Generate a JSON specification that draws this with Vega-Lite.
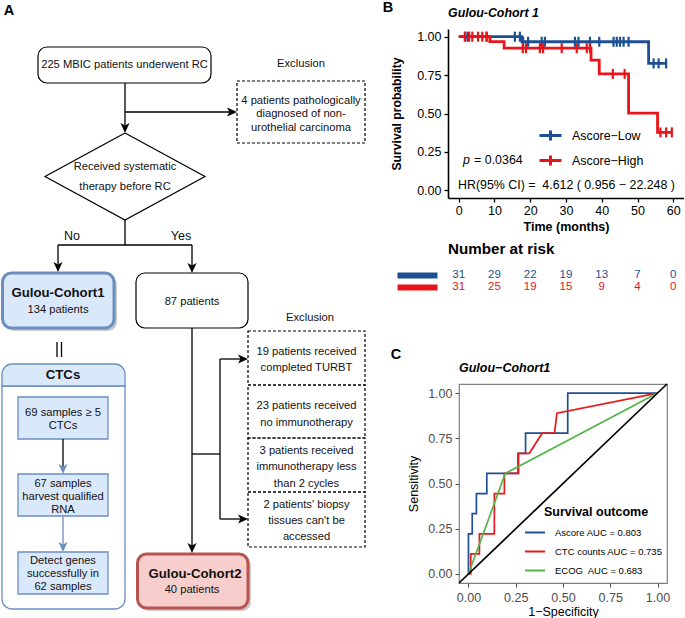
{
  "$schema": "https://vega.github.io/schema/vega-lite/v6.json",
  "padding": 0,
  "spacing": 0,
  "bounds": "flush",
  "resolve": {"scale": {"color": "independent", "fill": "independent", "stroke": "independent"}, "legend": {"color": "independent", "fill": "independent", "stroke": "independent"}},
  "config": {
    "font": "Liberation Sans",
    "view": {"stroke": null},
    "axis": {"grid": false, "labelFont": "Liberation Sans", "titleFont": "Liberation Sans"},
    "legend": {"labelFont": "Liberation Sans", "titleFont": "Liberation Sans"},
    "title": {"font": "Liberation Sans", "color": "black"},
    "text": {"font": "Liberation Sans"}
  },
  "datasets": {
    "fcBoxes": [{"x": 38, "x2": 211, "y": 46, "y2": 82}, {"x": 136, "x2": 248, "y": 272, "y2": 327}],
    "fcDashed": [
      {"x": 237, "x2": 365, "y": 80, "y2": 142},
      {"x": 248, "x2": 365, "y": 330, "y2": 384},
      {"x": 248, "x2": 365, "y": 384, "y2": 437},
      {"x": 248, "x2": 365, "y": 437, "y2": 491},
      {"x": 248, "x2": 365, "y": 491, "y2": 546}
    ],
    "fcCohorts": [
      {"cohort": "Gulou-Cohort1", "x": 2.5, "x2": 114, "y": 272, "y2": 327},
      {"cohort": "Gulou-Cohort2", "x": 137.5, "x2": 248, "y": 553, "y2": 607}
    ],
    "fcCtcHeader": [{"x": 2, "x2": 125, "y": 363, "y2": 385}],
    "fcCtcBody": [{"x": 2, "x2": 125, "y": 385, "y2": 608}],
    "fcCtcInner": [
      {"x": 18, "x2": 108, "y": 396, "y2": 438},
      {"x": 18, "x2": 108, "y": 473, "y2": 515},
      {"x": 18, "x2": 108, "y": 551, "y2": 593}
    ],
    "fcDiamond": [
      {"x": 125, "y": 132, "o": 0}, {"x": 205, "y": 175.5, "o": 1}, {"x": 125, "y": 219, "o": 2},
      {"x": 45, "y": 175.5, "o": 3}, {"x": 125, "y": 132, "o": 4}
    ],
    "fcEdges": [
      {"x": 125, "y": 82, "x2": 125, "y2": 128},
      {"x": 125, "y": 111, "x2": 233, "y2": 111},
      {"x": 125, "y": 219, "x2": 125, "y2": 244},
      {"x": 58, "y": 244, "x2": 192, "y2": 244},
      {"x": 58, "y": 244, "x2": 58, "y2": 266},
      {"x": 192, "y": 244, "x2": 192, "y2": 267},
      {"x": 192, "y": 327, "x2": 192, "y2": 547},
      {"x": 192, "y": 453, "x2": 220, "y2": 453},
      {"x": 220, "y": 358, "x2": 220, "y2": 518},
      {"x": 220, "y": 358, "x2": 243, "y2": 358},
      {"x": 220, "y": 518, "x2": 243, "y2": 518},
      {"x": 57, "y": 341, "x2": 57, "y2": 356},
      {"x": 61.5, "y": 341, "x2": 61.5, "y2": 356},
      {"x": 63, "y": 438, "x2": 63, "y2": 468}
    ],
    "fcEdgesBlue": [{"x": 63, "y": 515, "x2": 63, "y2": 546}],
    "fcArrowsDown": [{"x": 125, "y": 132}, {"x": 58, "y": 271}, {"x": 192, "y": 272}, {"x": 192, "y": 552}],
    "fcArrowsRight": [{"x": 237, "y": 111}, {"x": 248, "y": 358}, {"x": 248, "y": 518}],
    "fcArrowsBlue": [{"x": 63, "y": 473}, {"x": 63, "y": 551}],
    "fcText": [
      {"x": 124.5, "y": 64, "label": "225 MBIC patients underwent RC"},
      {"x": 301, "y": 63, "label": "Exclusion"},
      {"x": 301, "y": 100, "label": "4 patients pathologically"},
      {"x": 301, "y": 113, "label": "diagnosed of non-"},
      {"x": 301, "y": 127, "label": "urothelial carcinoma"},
      {"x": 125, "y": 166, "label": "Received systematic"},
      {"x": 125, "y": 186, "label": "therapy before RC"},
      {"x": 58, "y": 309, "label": "134 patients"},
      {"x": 192, "y": 301, "label": "87 patients"},
      {"x": 310, "y": 317, "label": "Exclusion"},
      {"x": 306.5, "y": 351, "label": "19 patients received"},
      {"x": 306.5, "y": 367, "label": "completed TURBT"},
      {"x": 306.5, "y": 405, "label": "23 patients received"},
      {"x": 306.5, "y": 422, "label": "no immunotherapy"},
      {"x": 306.5, "y": 450, "label": "3 patients received"},
      {"x": 306.5, "y": 466, "label": "immunotherapy less"},
      {"x": 306.5, "y": 483, "label": "than 2 cycles"},
      {"x": 306.5, "y": 504, "label": "2 patients' biopsy"},
      {"x": 306.5, "y": 520, "label": "tissues can't be"},
      {"x": 306.5, "y": 536, "label": "accessed"},
      {"x": 63, "y": 412, "label": "69 samples ≥ 5"},
      {"x": 63, "y": 425, "label": "CTCs"},
      {"x": 63, "y": 483, "label": "67 samples"},
      {"x": 63, "y": 496, "label": "harvest qualified"},
      {"x": 63, "y": 509, "label": "RNA"},
      {"x": 63, "y": 560, "label": "Detect genes"},
      {"x": 63, "y": 573, "label": "successfully in"},
      {"x": 63, "y": 586, "label": "62 samples"},
      {"x": 192, "y": 589, "label": "40 patients"}
    ],
    "fcTextBold": [
      {"x": 58, "y": 292, "label": "Gulou-Cohort1"},
      {"x": 63, "y": 374, "label": "CTCs"},
      {"x": 195, "y": 573, "label": "Gulou-Cohort2"}
    ],
    "fcTextBranch": [{"x": 72, "y": 235, "label": "No"}, {"x": 181, "y": 235, "label": "Yes"}],
    "fcLetters": [{"x": 9, "y": 10, "label": "A"}, {"x": 388, "y": 7, "label": "B"}, {"x": 396, "y": 354, "label": "C"}],
    "km": [
      {"group": "Ascore−Low", "t": 0, "s": 1},
      {"group": "Ascore−Low", "t": 17.7, "s": 0.967},
      {"group": "Ascore−Low", "t": 53.1, "s": 0.826},
      {"group": "Ascore−Low", "t": 58, "s": 0.826},
      {"group": "Ascore−High", "t": 0, "s": 1},
      {"group": "Ascore−High", "t": 8.7, "s": 0.968},
      {"group": "Ascore−High", "t": 12.7, "s": 0.925},
      {"group": "Ascore−High", "t": 37.0, "s": 0.848},
      {"group": "Ascore−High", "t": 39.3, "s": 0.758},
      {"group": "Ascore−High", "t": 47.5, "s": 0.503},
      {"group": "Ascore−High", "t": 55.6, "s": 0.377},
      {"group": "Ascore−High", "t": 59.6, "s": 0.377}
    ],
    "censor": [
      {"group": "Ascore−Low", "t": 1.9, "s": 1}, {"group": "Ascore−Low", "t": 2.6, "s": 1},
      {"group": "Ascore−Low", "t": 7.8, "s": 1}, {"group": "Ascore−Low", "t": 15.7, "s": 1},
      {"group": "Ascore−Low", "t": 17.1, "s": 1},
      {"group": "Ascore−Low", "t": 18.0, "s": 0.967}, {"group": "Ascore−Low", "t": 19.4, "s": 0.967},
      {"group": "Ascore−Low", "t": 23.2, "s": 0.967}, {"group": "Ascore−Low", "t": 24.1, "s": 0.967},
      {"group": "Ascore−Low", "t": 32.5, "s": 0.967}, {"group": "Ascore−Low", "t": 33.5, "s": 0.967},
      {"group": "Ascore−Low", "t": 36.7, "s": 0.967}, {"group": "Ascore−Low", "t": 39.3, "s": 0.967},
      {"group": "Ascore−Low", "t": 43.3, "s": 0.967}, {"group": "Ascore−Low", "t": 44.2, "s": 0.967},
      {"group": "Ascore−Low", "t": 45.1, "s": 0.967}, {"group": "Ascore−Low", "t": 46.1, "s": 0.967},
      {"group": "Ascore−Low", "t": 47.5, "s": 0.967},
      {"group": "Ascore−Low", "t": 54.5, "s": 0.826}, {"group": "Ascore−Low", "t": 55.9, "s": 0.826},
      {"group": "Ascore−Low", "t": 58, "s": 0.826},
      {"group": "Ascore−High", "t": 1.7, "s": 1}, {"group": "Ascore−High", "t": 2.9, "s": 1},
      {"group": "Ascore−High", "t": 3.8, "s": 1}, {"group": "Ascore−High", "t": 5.4, "s": 1},
      {"group": "Ascore−High", "t": 6.6, "s": 1}, {"group": "Ascore−High", "t": 7.8, "s": 1},
      {"group": "Ascore−High", "t": 17.9, "s": 0.925}, {"group": "Ascore−High", "t": 18.8, "s": 0.925},
      {"group": "Ascore−High", "t": 22.7, "s": 0.925}, {"group": "Ascore−High", "t": 23.6, "s": 0.925},
      {"group": "Ascore−High", "t": 28.8, "s": 0.925}, {"group": "Ascore−High", "t": 33.0, "s": 0.925},
      {"group": "Ascore−High", "t": 35.8, "s": 0.925}, {"group": "Ascore−High", "t": 36.7, "s": 0.925},
      {"group": "Ascore−High", "t": 43.1, "s": 0.758}, {"group": "Ascore−High", "t": 46.4, "s": 0.758},
      {"group": "Ascore−High", "t": 56.4, "s": 0.377}, {"group": "Ascore−High", "t": 58, "s": 0.377},
      {"group": "Ascore−High", "t": 59.6, "s": 0.377}
    ],
    "kmP": [{"t": 1.2, "s": 0.195, "label": "p"}],
    "kmText": [
      {"t": 4.3, "s": 0.195, "label": "= 0.0364"},
      {"t": -0.2, "s": 0.037, "label": "HR(95% CI) =\u00a0 4.612 ( 0.956 − 22.248 )"}
    ],
    "risk": [
      {"group": "Ascore−Low", "t": 0, "n": 31}, {"group": "Ascore−Low", "t": 10, "n": 29},
      {"group": "Ascore−Low", "t": 20, "n": 22}, {"group": "Ascore−Low", "t": 30, "n": 19},
      {"group": "Ascore−Low", "t": 40, "n": 13}, {"group": "Ascore−Low", "t": 50, "n": 7},
      {"group": "Ascore−Low", "t": 60, "n": 0},
      {"group": "Ascore−High", "t": 0, "n": 31}, {"group": "Ascore−High", "t": 10, "n": 25},
      {"group": "Ascore−High", "t": 20, "n": 19}, {"group": "Ascore−High", "t": 30, "n": 15},
      {"group": "Ascore−High", "t": 40, "n": 9}, {"group": "Ascore−High", "t": 50, "n": 4},
      {"group": "Ascore−High", "t": 60, "n": 0}
    ],
    "roc": [
      {"model": "Ascore AUC = 0.803", "i": 0, "fpr": 0, "tpr": 0},
      {"model": "Ascore AUC = 0.803", "i": 1, "fpr": 0, "tpr": 0.222},
      {"model": "Ascore AUC = 0.803", "i": 2, "fpr": 0.02, "tpr": 0.222},
      {"model": "Ascore AUC = 0.803", "i": 3, "fpr": 0.02, "tpr": 0.333},
      {"model": "Ascore AUC = 0.803", "i": 4, "fpr": 0.042, "tpr": 0.333},
      {"model": "Ascore AUC = 0.803", "i": 5, "fpr": 0.042, "tpr": 0.444},
      {"model": "Ascore AUC = 0.803", "i": 6, "fpr": 0.097, "tpr": 0.444},
      {"model": "Ascore AUC = 0.803", "i": 7, "fpr": 0.097, "tpr": 0.556},
      {"model": "Ascore AUC = 0.803", "i": 8, "fpr": 0.262, "tpr": 0.556},
      {"model": "Ascore AUC = 0.803", "i": 9, "fpr": 0.262, "tpr": 0.667},
      {"model": "Ascore AUC = 0.803", "i": 10, "fpr": 0.302, "tpr": 0.667},
      {"model": "Ascore AUC = 0.803", "i": 11, "fpr": 0.302, "tpr": 0.778},
      {"model": "Ascore AUC = 0.803", "i": 12, "fpr": 0.525, "tpr": 0.778},
      {"model": "Ascore AUC = 0.803", "i": 13, "fpr": 0.525, "tpr": 1},
      {"model": "Ascore AUC = 0.803", "i": 14, "fpr": 1, "tpr": 1},
      {"model": "CTC counts AUC = 0.735", "i": 0, "fpr": 0, "tpr": 0},
      {"model": "CTC counts AUC = 0.735", "i": 1, "fpr": 0.012, "tpr": 0},
      {"model": "CTC counts AUC = 0.735", "i": 2, "fpr": 0.012, "tpr": 0.111},
      {"model": "CTC counts AUC = 0.735", "i": 3, "fpr": 0.058, "tpr": 0.111},
      {"model": "CTC counts AUC = 0.735", "i": 4, "fpr": 0.058, "tpr": 0.222},
      {"model": "CTC counts AUC = 0.735", "i": 5, "fpr": 0.137, "tpr": 0.222},
      {"model": "CTC counts AUC = 0.735", "i": 6, "fpr": 0.137, "tpr": 0.444},
      {"model": "CTC counts AUC = 0.735", "i": 7, "fpr": 0.19, "tpr": 0.444},
      {"model": "CTC counts AUC = 0.735", "i": 8, "fpr": 0.19, "tpr": 0.556},
      {"model": "CTC counts AUC = 0.735", "i": 9, "fpr": 0.265, "tpr": 0.556},
      {"model": "CTC counts AUC = 0.735", "i": 10, "fpr": 0.265, "tpr": 0.667},
      {"model": "CTC counts AUC = 0.735", "i": 11, "fpr": 0.322, "tpr": 0.667},
      {"model": "CTC counts AUC = 0.735", "i": 12, "fpr": 0.39, "tpr": 0.778},
      {"model": "CTC counts AUC = 0.735", "i": 13, "fpr": 0.455, "tpr": 0.778},
      {"model": "CTC counts AUC = 0.735", "i": 14, "fpr": 0.468, "tpr": 0.889},
      {"model": "CTC counts AUC = 0.735", "i": 15, "fpr": 1, "tpr": 1},
      {"model": "ECOG\u00a0 AUC = 0.683", "i": 0, "fpr": 0, "tpr": 0},
      {"model": "ECOG\u00a0 AUC = 0.683", "i": 1, "fpr": 0.195, "tpr": 0.556},
      {"model": "ECOG\u00a0 AUC = 0.683", "i": 2, "fpr": 1, "tpr": 1}
    ],
    "diag": [{"fpr": -0.05, "tpr": -0.05, "fpr2": 1.05, "tpr2": 1.05}]
  },
  "hconcat": [
    {
      "width": 448,
      "height": 618,
      "encoding": {
        "x": {"field": "x", "type": "quantitative", "scale": {"domain": [0, 448], "nice": false, "zero": false}, "axis": null},
        "y": {"field": "y", "type": "quantitative", "scale": {"domain": [0, 618], "nice": false, "zero": false, "reverse": true}, "axis": null}
      },
      "layer": [
        {"data": {"name": "fcCohorts"}, "mark": {"type": "rect", "cornerRadius": 9, "fill": "#9a9a9a", "opacity": 0.55, "xOffset": 3, "x2Offset": 3, "yOffset": 3, "y2Offset": 3}, "encoding": {"x2": {"field": "x2"}, "y2": {"field": "y2"}}},
        {"data": {"name": "fcCohorts"}, "mark": {"type": "rect", "cornerRadius": 9, "strokeWidth": 3}, "encoding": {"x2": {"field": "x2"}, "y2": {"field": "y2"}, "fill": {"field": "cohort", "type": "nominal", "scale": {"domain": ["Gulou-Cohort1", "Gulou-Cohort2"], "range": ["#dae8fc", "#f8cecc"]}, "legend": null}, "stroke": {"field": "cohort", "type": "nominal", "scale": {"domain": ["Gulou-Cohort1", "Gulou-Cohort2"], "range": ["#6c8ebf", "#b85450"]}, "legend": null}}},
        {"data": {"name": "fcBoxes"}, "mark": {"type": "rect", "cornerRadius": 9, "fill": "white", "stroke": "black", "strokeWidth": 1.2}, "encoding": {"x2": {"field": "x2"}, "y2": {"field": "y2"}}},
        {"data": {"name": "fcDashed"}, "mark": {"type": "rect", "filled": false, "color": "black", "strokeWidth": 1.2, "strokeDash": [3, 2]}, "encoding": {"x2": {"field": "x2"}, "y2": {"field": "y2"}}},
        {"data": {"name": "fcCtcBody"}, "mark": {"type": "rect", "fill": "white", "stroke": "#6c8ebf", "strokeWidth": 1.3, "cornerRadiusBottomLeft": 10, "cornerRadiusBottomRight": 10}, "encoding": {"x2": {"field": "x2"}, "y2": {"field": "y2"}}},
        {"data": {"name": "fcCtcHeader"}, "mark": {"type": "rect", "fill": "#dae8fc", "stroke": "#6c8ebf", "strokeWidth": 1.3, "cornerRadiusTopLeft": 10, "cornerRadiusTopRight": 10}, "encoding": {"x2": {"field": "x2"}, "y2": {"field": "y2"}}},
        {"data": {"name": "fcCtcInner"}, "mark": {"type": "rect", "fill": "#dae8fc", "stroke": "#6c8ebf", "strokeWidth": 1.3}, "encoding": {"x2": {"field": "x2"}, "y2": {"field": "y2"}}},
        {"data": {"name": "fcDiamond"}, "mark": {"type": "line", "color": "black", "strokeWidth": 1.2}, "encoding": {"order": {"field": "o", "type": "quantitative"}}},
        {"data": {"name": "fcEdges"}, "mark": {"type": "rule", "color": "black", "strokeWidth": 1.3}, "encoding": {"x2": {"field": "x2"}, "y2": {"field": "y2"}}},
        {"data": {"name": "fcEdgesBlue"}, "mark": {"type": "rule", "color": "#6c8ebf", "strokeWidth": 1.3}, "encoding": {"x2": {"field": "x2"}, "y2": {"field": "y2"}}},
        {"data": {"name": "fcArrowsDown"}, "mark": {"type": "point", "shape": "M0,0L-0.9,-2L0,-1.5L0.9,-2Z", "filled": true, "color": "black", "size": 100, "opacity": 1, "strokeWidth": 0}},
        {"data": {"name": "fcArrowsRight"}, "mark": {"type": "point", "shape": "M0,0L-2,-0.9L-1.5,0L-2,0.9Z", "filled": true, "color": "black", "size": 100, "opacity": 1, "strokeWidth": 0}},
        {"data": {"name": "fcArrowsBlue"}, "mark": {"type": "point", "shape": "M0,0L-0.9,-2L0,-1.5L0.9,-2Z", "filled": true, "color": "#6c8ebf", "size": 100, "opacity": 1, "strokeWidth": 0}},
        {"data": {"name": "fcText"}, "mark": {"type": "text", "fontSize": 11.2, "align": "center", "baseline": "middle", "color": "#111111"}, "encoding": {"text": {"field": "label"}}},
        {"data": {"name": "fcTextBold"}, "mark": {"type": "text", "fontSize": 13.2, "fontWeight": "bold", "align": "center", "baseline": "middle", "color": "#111111"}, "encoding": {"text": {"field": "label"}}},
        {"data": {"name": "fcTextBranch"}, "mark": {"type": "text", "fontSize": 12.5, "align": "center", "baseline": "middle", "color": "#111111"}, "encoding": {"text": {"field": "label"}}},
        {"data": {"name": "fcLetters"}, "mark": {"type": "text", "fontSize": 14.5, "fontWeight": "bold", "align": "center", "baseline": "middle", "color": "black"}, "encoding": {"text": {"field": "label"}}}
      ]
    },
    {
      "bounds": "flush",
      "spacing": 27,
      "resolve": {"scale": {"color": "independent"}, "legend": {"color": "independent"}},
      "vconcat": [
        {"width": 1, "height": 1, "data": {"values": []}, "mark": "point"},
        {
          "bounds": "flush",
          "spacing": 71,
          "resolve": {"scale": {"color": "independent"}, "legend": {"color": "independent"}},
          "vconcat": [
            {
              "width": 236,
              "height": 169,
              "title": {"text": "Gulou-Cohort 1", "anchor": "start", "frame": "group", "fontSize": 12.4, "fontStyle": "italic", "fontWeight": "bold", "offset": 8},
              "encoding": {
                "x": {"field": "t", "type": "quantitative", "scale": {"domain": [-3, 63], "nice": false, "zero": false},
                  "axis": {"values": [0, 10, 20, 30, 40, 50, 60], "title": "Time (months)", "titleFontSize": 12.5, "titleFontWeight": "bold", "titleColor": "black", "titlePadding": 4, "labelFontSize": 12.5, "labelColor": "black", "labelPadding": 2, "labelFlush": false, "tickSize": 4, "tickColor": "black", "tickWidth": 1.3, "domainColor": "black", "domainWidth": 1.6}},
                "y": {"field": "s", "type": "quantitative", "scale": {"domain": [-0.05, 1.05], "nice": false, "zero": false},
                  "axis": {"values": [0, 0.25, 0.5, 0.75, 1], "format": ".2f", "title": "Survival probability", "titleFontSize": 12.2, "titleFontWeight": "bold", "titleColor": "black", "titlePadding": 13, "labelFontSize": 12.5, "labelColor": "black", "labelPadding": 3, "labelFlush": false, "tickSize": 4, "tickColor": "black", "tickWidth": 1.3, "domainColor": "black", "domainWidth": 1.6}}
              },
              "layer": [
                {"data": {"name": "km"}, "mark": {"type": "line", "interpolate": "step-after", "strokeWidth": 2.8},
                  "encoding": {"color": {"field": "group", "type": "nominal", "scale": {"domain": ["Ascore−Low", "Ascore−High"], "range": ["#1D5093", "#E8141B"]},
                    "legend": {"orient": "none", "legendX": 96, "legendY": 100, "title": null, "symbolType": "M-2.2,0H2.2M0,-1V1", "symbolSize": 100, "symbolStrokeWidth": 3, "labelFontSize": 12.4, "labelColor": "black", "labelOffset": 15, "rowPadding": 2, "padding": 0}}}},
                {"data": {"name": "censor"}, "mark": {"type": "point", "shape": "M0,-1V1", "size": 100, "strokeWidth": 2.2, "filled": false, "opacity": 1},
                  "encoding": {"color": {"field": "group", "type": "nominal"}}},
                {"data": {"name": "kmP"}, "mark": {"type": "text", "align": "left", "baseline": "middle", "fontSize": 12.4, "fontStyle": "italic", "color": "black"}, "encoding": {"text": {"field": "label"}}},
                {"data": {"name": "kmText"}, "mark": {"type": "text", "align": "left", "baseline": "middle", "fontSize": 12.4, "color": "black"}, "encoding": {"text": {"field": "label"}}}
              ]
            },
            {
              "bounds": "flush",
              "spacing": 91,
              "resolve": {"scale": {"color": "independent"}, "legend": {"color": "independent"}},
              "vconcat": [
                {
                  "width": 236,
                  "height": 24,
                  "title": {"text": "Number at risk", "anchor": "start", "frame": "group", "fontSize": 15.2, "fontWeight": "bold", "offset": 12},
                  "data": {"name": "risk"},
                  "mark": {"type": "text", "fontSize": 11.5, "baseline": "middle"},
                  "encoding": {
                    "x": {"field": "t", "type": "quantitative", "scale": {"domain": [-3, 63], "nice": false, "zero": false}, "axis": null},
                    "y": {"field": "group", "type": "nominal", "scale": {"type": "point", "domain": ["Ascore−Low", "Ascore−High"], "padding": 0.5},
                      "axis": {"title": null, "labels": false, "domain": false, "tickSize": 40, "tickWidth": 6, "tickCap": "butt", "offset": 11,
                        "tickColor": {"condition": {"test": "datum.value === 'Ascore−High'", "value": "#E8141B"}, "value": "#1D5093"}}},
                    "text": {"field": "n", "type": "quantitative"},
                    "color": {"field": "group", "type": "nominal", "scale": {"domain": ["Ascore−Low", "Ascore−High"], "range": ["#1D5093", "#E8141B"]}, "legend": null}
                  }
                },
                {
                  "bounds": "flush",
                  "spacing": 10,
                  "resolve": {"scale": {"color": "independent"}, "legend": {"color": "independent"}},
                  "hconcat": [
                    {"width": 1, "height": 1, "data": {"values": []}, "mark": "point"},
                    {
                      "width": 208,
                      "height": 199,
                      "view": {"stroke": "#808080", "strokeWidth": 1.2},
                      "title": {"text": "Gulou−Cohort1", "anchor": "start", "frame": "group", "fontSize": 12.5, "fontStyle": "italic", "fontWeight": "bold", "offset": 9},
                      "encoding": {
                        "x": {"field": "fpr", "type": "quantitative", "scale": {"domain": [-0.05, 1.05], "nice": false, "zero": false},
                          "axis": {"values": [0, 0.25, 0.5, 0.75, 1], "format": ".2f", "title": "1−Specificity", "domain": false, "tickSize": 4, "tickColor": "#4d4d4d", "labelColor": "#4d4d4d", "labelFontSize": 12.5, "labelPadding": 4, "labelFlush": false, "titleFontSize": 12.5, "titleFontWeight": "normal", "titleColor": "black", "titlePadding": 2}},
                        "y": {"field": "tpr", "type": "quantitative", "scale": {"domain": [-0.05, 1.05], "nice": false, "zero": false},
                          "axis": {"values": [0, 0.25, 0.5, 0.75, 1], "format": ".2f", "title": "Sensitivity", "domain": false, "tickSize": 4, "tickColor": "#4d4d4d", "labelColor": "#4d4d4d", "labelFontSize": 12.5, "labelPadding": 3, "labelFlush": false, "titleFontSize": 12.5, "titleFontWeight": "normal", "titleColor": "black", "titlePadding": 7}}
                      },
                      "layer": [
                        {"data": {"name": "roc"}, "mark": {"type": "line", "strokeWidth": 1.7},
                          "encoding": {
                            "color": {"field": "model", "type": "nominal", "scale": {"domain": ["Ascore AUC = 0.803", "CTC counts AUC = 0.735", "ECOG\u00a0 AUC = 0.683"], "range": ["#1F4E92", "#E41A1C", "#53B548"]},
                              "legend": {"orient": "none", "legendX": 70, "legendY": 122, "title": "Survival outcome", "titleFontSize": 12.5, "titleFontWeight": "bold", "titleColor": "black", "titleAnchor": "middle", "titlePadding": 8, "labelFontSize": 9.5, "labelColor": "black", "symbolType": "M-2,0H2", "symbolSize": 100, "symbolStrokeWidth": 2, "labelOffset": 14, "rowPadding": 8, "padding": 0}},
                            "order": {"field": "i", "type": "quantitative"}
                          }},
                        {"data": {"name": "diag"}, "mark": {"type": "rule", "color": "black", "strokeWidth": 1.7}, "encoding": {"x2": {"field": "fpr2"}, "y2": {"field": "tpr2"}}}
                      ]
                    }
                  ]
                }
              ]
            }
          ]
        }
      ]
    }
  ]
}
